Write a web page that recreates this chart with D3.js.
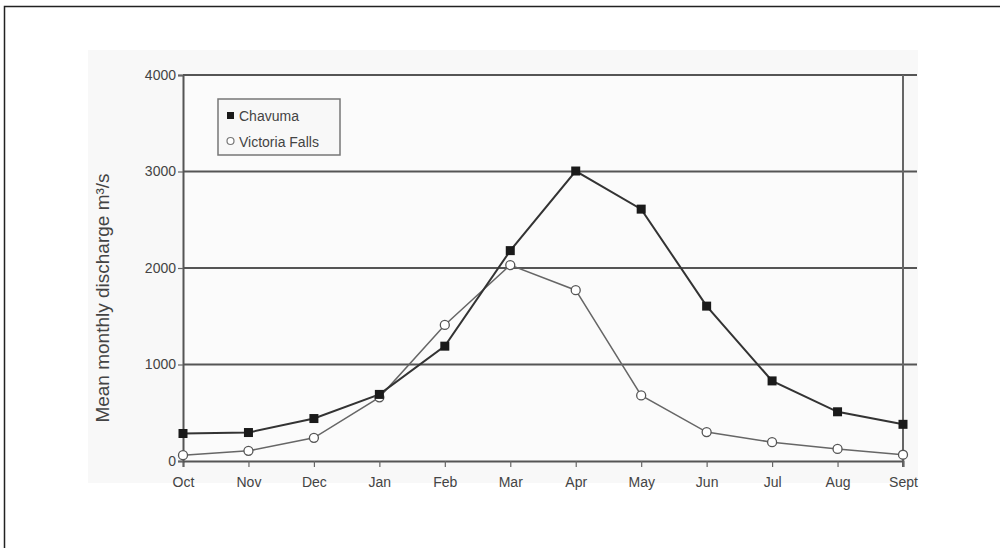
<!DOCTYPE html>
<html>
<head>
<meta charset="utf-8">
<script src="https://cdn.jsdelivr.net/npm/d3@7"></script>
<style>
  body { margin: 0; background: #fff; }
  svg { display: block; }
  text { font-family: "Liberation Sans Narrow", "Arial Narrow", "Liberation Sans", sans-serif; fill: #444; }
</style>
</head>
<body>
<div id="chart-container"></div>
<script>
// Data
var months = ["Oct", "Nov", "Dec", "Jan", "Feb", "Mar", "Apr", "May", "Jun", "Jul", "Aug", "Sep"];
var monthLabels = ["Oct", "Nov", "Dec", "Jan", "Feb", "Mar", "Apr", "May", "Jun", "Jul", "Aug", "Sept"];
var chavuma = [285, 295, 440, 690, 1190, 2180, 3005, 2610, 1605, 830, 510, 380];
var victoriaFalls = [60, 105, 240, 660, 1410, 2030, 1770, 680, 300, 195, 125, 65];
var yTicks = [0, 1000, 2000, 3000, 4000];
var seriesNames = ["Chavuma", "Victoria Falls"];

var W = 1000, H = 548;
var margin = {left: 183, right: 97, top: 75, bottom: 87};
var width = W - margin.left - margin.right;
var height = H - margin.top - margin.bottom;

var svg = d3.select("#chart-container").append("svg")
    .attr("width", W).attr("height", H);

// outer frame (only top and left fall inside the window)
svg.append("rect").attr("x", 4.5).attr("y", 6.5)
    .attr("width", W + 10).attr("height", H + 10)
    .attr("fill", "none").attr("stroke", "#222").attr("stroke-width", 1.5);

// faint figure background
svg.append("rect").attr("x", 88).attr("y", 50).attr("width", 830).attr("height", 433)
    .attr("fill", "#f8f8f8");

var g = svg.append("g").attr("transform", "translate(" + margin.left + "," + margin.top + ")");

var x = d3.scalePoint().domain(months).range([0, width]);
var y = d3.scaleLinear().domain([0, 4000]).range([height, 0]);

// plot background
g.append("rect").attr("width", width).attr("height", height).attr("fill", "#fbfbfb");

// horizontal grid lines
g.selectAll(".grid").data(yTicks.filter(function(d) { return d > 0; }))
  .enter().append("line")
    .attr("x1", 0).attr("x2", width + 14)
    .attr("y1", function(d) { return y(d); }).attr("y2", function(d) { return y(d); })
    .attr("stroke", "#555").attr("stroke-width", 1.8);

// right border
g.append("line").attr("x1", width).attr("x2", width).attr("y1", 0).attr("y2", height + 6)
    .attr("stroke", "#666").attr("stroke-width", 2);

// axes
var xAxis = g.append("g").attr("transform", "translate(0," + height + ")")
    .call(d3.axisBottom(x).tickSize(6).tickPadding(7)
      .tickFormat(function(d, i) { return monthLabels[i]; }));
var yAxis = g.append("g")
    .call(d3.axisLeft(y).tickValues(yTicks).tickSize(5).tickPadding(2).tickFormat(d3.format("d")));

[xAxis, yAxis].forEach(function(a) {
  a.select(".domain").attr("stroke", "#555").attr("stroke-width", 2);
  a.selectAll(".tick line").attr("stroke", "#666").attr("stroke-width", 1.2);
  a.selectAll("text").style("font-size", "14px").attr("fill", "#555")
    .style("font-family", "'Liberation Sans Narrow', 'Arial Narrow', sans-serif");
});
xAxis.selectAll(".tick text").attr("dy", "0.9em");

// lines
var line = d3.line()
    .x(function(d, i) { return x(months[i]); })
    .y(function(d) { return y(d); });

g.append("path").datum(victoriaFalls).attr("d", line)
    .attr("fill", "none").attr("stroke", "#666").attr("stroke-width", 1.5);
g.append("path").datum(chavuma).attr("d", line)
    .attr("fill", "none").attr("stroke", "#333").attr("stroke-width", 2);

// markers
g.selectAll(".vf").data(victoriaFalls).enter().append("circle")
    .attr("cx", function(d, i) { return x(months[i]); })
    .attr("cy", function(d) { return y(d); })
    .attr("r", 4.5).attr("fill", "#fff").attr("stroke", "#555").attr("stroke-width", 1.3);
g.selectAll(".ch").data(chavuma).enter().append("rect")
    .attr("x", function(d, i) { return x(months[i]) - 4.5; })
    .attr("y", function(d) { return y(d) - 4.5; })
    .attr("width", 9).attr("height", 9).attr("fill", "#1a1a1a");

// legend
var legend = svg.append("g").attr("transform", "translate(218,99)");
legend.append("rect").attr("width", 122).attr("height", 56)
    .attr("fill", "#f8f8f8").attr("stroke", "#777").attr("stroke-width", 1.5);
legend.append("rect").attr("x", 9).attr("y", 13).attr("width", 7).attr("height", 7).attr("fill", "#1a1a1a");
legend.append("circle").attr("cx", 12.5).attr("cy", 42).attr("r", 3.5)
    .attr("fill", "#fff").attr("stroke", "#777").attr("stroke-width", 1.2);
legend.selectAll(".lt").data(seriesNames).enter().append("text")
    .attr("x", 21).attr("y", function(d, i) { return 17 + i * 26; })
    .attr("dy", "0.35em").style("font-size", "14px").attr("fill", "#555")
    .text(function(d) { return d; });

// y axis title
svg.append("text")
    .attr("transform", "translate(109,298) rotate(-90)")
    .attr("text-anchor", "middle").style("font-size", "19px").attr("fill", "#555")
    .text("Mean monthly discharge m\u00b3/s");
</script>
</body>
</html>
